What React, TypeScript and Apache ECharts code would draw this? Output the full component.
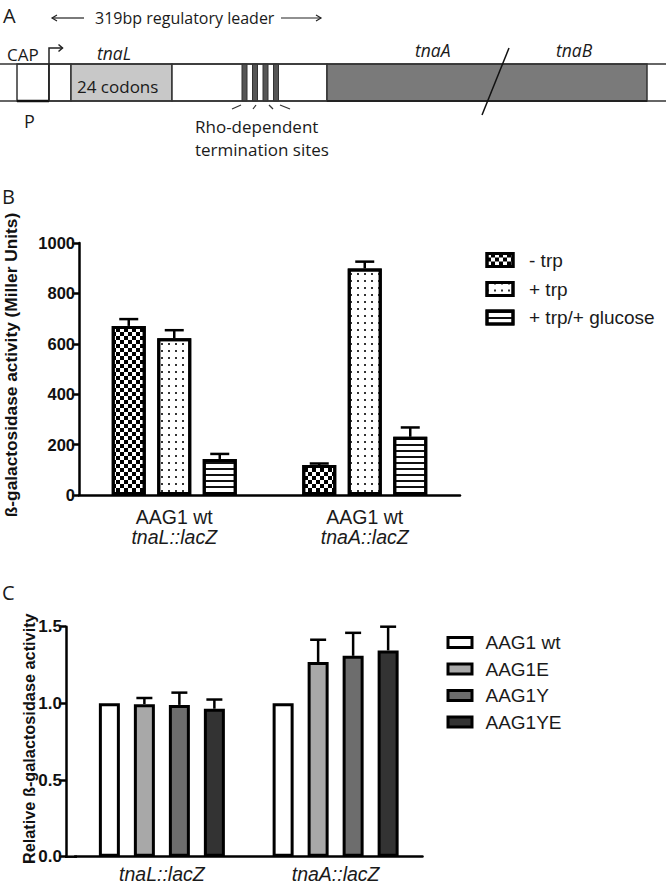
import React, { useEffect, useRef } from "react";
import * as echarts from "echarts";

// ---------- Panel B data ----------
const bConstructs = ["tnaL::lacZ", "tnaA::lacZ"];
const bStrain = ["AAG1 wt", "AAG1 wt"];
const bSeriesNames = ["- trp", "+ trp", "+ trp/+ glucose"];
const bMinusTrp = [671, 119];
const bPlusTrp = [622, 899];
const bPlusTrpGlucose = [143, 231];
const bMinusTrpErr = [27, 6];
const bPlusTrpErr = [32, 27];
const bPlusTrpGlucoseErr = [20, 37];
const bYTicks = [0, 200, 400, 600, 800, 1000];

// ---------- Panel C data ----------
const cConstructs = ["tnaL::lacZ", "tnaA::lacZ"];
const cSeriesNames = ["AAG1 wt", "AAG1E", "AAG1Y", "AAG1YE"];
const cWt = [1.0, 1.0];
const cE = [0.995, 1.27];
const cY = [0.99, 1.31];
const cYE = [0.965, 1.345];
const cWtErr = [0, 0];
const cEErr = [0.04, 0.145];
const cYErr = [0.08, 0.15];
const cYEErr = [0.06, 0.155];
const cYTicks = [0, 0.5, 1.0, 1.5];
const cColors = ["#ffffff", "#a8a8a8", "#6d6d6d", "#333333"];

const chartFont = "'Liberation Sans', Arial, sans-serif";
const diagFont = "'Open Sans', 'Noto Sans', sans-serif";

function errorBars(values: number[], errs: number[], idx: number, n: number, step: number, capW: number) {
  return {
    type: "custom",
    silent: true,
    z: 3,
    data: values.map((v, i) => [i, v, v + errs[i]]),
    renderItem: (params: any, api: any) => {
      const base = api.coord([api.value(0), api.value(1)]);
      const top = api.coord([api.value(0), api.value(2)]);
      if (Math.abs(base[1] - top[1]) < 0.5) return { type: "group", children: [] };
      const x = base[0] + (idx - (n - 1) / 2) * step;
      const st = { stroke: "#000", lineWidth: 2.5, fill: null };
      return {
        type: "group",
        children: [
          { type: "line", shape: { x1: x, y1: base[1], x2: x, y2: top[1] }, style: st },
          { type: "line", shape: { x1: x - capW / 2, y1: top[1], x2: x + capW / 2, y2: top[1] }, style: st },
        ],
      };
    },
  };
}

function txt(text: string, x: number, y: number, size: number, italic = false, align = "left") {
  return {
    type: "text",
    x,
    y,
    style: {
      text,
      fill: "#1a1a1a",
      fontSize: size,
      fontFamily: diagFont,
      fontStyle: italic ? "italic" : "normal",
      align,
      verticalAlign: "middle",
      textAlign: align,
      textVerticalAlign: "middle",
    },
  };
}

const edge = { stroke: "#333", lineWidth: 1.5 };

function panelAGraphics() {
  const els: any[] = [];
  els.push({ type: "rect", shape: { x: 17, y: 64, width: 32, height: 37 }, style: { fill: "#fff", ...edge } });
  els.push({ type: "rect", shape: { x: 49, y: 64, width: 22, height: 37 }, style: { fill: "#fff", ...edge } });
  els.push({ type: "rect", shape: { x: 71, y: 64, width: 101, height: 37 }, style: { fill: "#c8c8c8", ...edge } });
  els.push({ type: "rect", shape: { x: 172, y: 64, width: 155, height: 37 }, style: { fill: "#fff", ...edge } });
  [242, 252.5, 263, 273.5].forEach((sx) =>
    els.push({ type: "rect", shape: { x: sx, y: 64, width: 5, height: 37 }, style: { fill: "#555", stroke: "#333", lineWidth: 1 } })
  );
  els.push({ type: "rect", shape: { x: 327, y: 64, width: 320, height: 37 }, style: { fill: "#7a7a7a", ...edge } });
  els.push({ type: "line", shape: { x1: 0, y1: 64, x2: 666, y2: 64 }, style: edge });
  els.push({ type: "line", shape: { x1: 0, y1: 101, x2: 666, y2: 101 }, style: edge });
  els.push({ type: "line", shape: { x1: 17, y1: 101, x2: 49, y2: 101 }, style: { stroke: "#111", lineWidth: 2.5 } });
  els.push({ type: "line", shape: { x1: 327, y1: 101, x2: 647, y2: 101 }, style: { stroke: "#222", lineWidth: 2.2 } });
  els.push({ type: "polyline", shape: { points: [[49, 101], [49, 48], [62.5, 48]] }, style: { stroke: "#222", lineWidth: 1.5, fill: null } });
  els.push({ type: "polyline", shape: { points: [[58.5, 44.5], [62.5, 48], [58.5, 51.5]] }, style: { stroke: "#222", lineWidth: 1.5, fill: null } });
  els.push({ type: "line", shape: { x1: 509, y1: 48, x2: 482, y2: 115 }, style: { stroke: "#111", lineWidth: 1.5 } });
  [
    [232, 109, 241, 105],
    [253, 109, 256, 105],
    [269, 105, 273, 109],
    [280, 105, 290, 109],
  ].forEach((l) => els.push({ type: "line", shape: { x1: l[0], y1: l[1], x2: l[2], y2: l[3] }, style: { stroke: "#333", lineWidth: 1.2 } }));
  els.push({ type: "line", shape: { x1: 52, y1: 18, x2: 84, y2: 18 }, style: { stroke: "#222", lineWidth: 1.2 } });
  els.push({ type: "polyline", shape: { points: [[57, 15], [52, 18], [57, 21]] }, style: { stroke: "#222", lineWidth: 1.2, fill: null } });
  els.push({ type: "line", shape: { x1: 281, y1: 18, x2: 321, y2: 18 }, style: { stroke: "#222", lineWidth: 1.2 } });
  els.push({ type: "polyline", shape: { points: [[316, 15], [321, 18], [316, 21]] }, style: { stroke: "#222", lineWidth: 1.2, fill: null } });
  els.push(txt("A", 3, 15, 20));
  els.push(txt("319bp regulatory leader", 95, 18, 16));
  els.push(txt("CAP", 7, 54, 17));
  els.push(txt("tnaL", 97, 53, 17.5, true));
  els.push(txt("24 codons", 77, 86, 17));
  els.push(txt("P", 24, 121, 18));
  els.push(txt("Rho-dependent", 195, 126, 17));
  els.push(txt("termination sites", 195, 149, 17));
  els.push(txt("tnaA", 415, 50, 17.5, true));
  els.push(txt("tnaB", 556, 50, 17.5, true));
  els.push(txt("B", 2, 196, 20));
  return els;
}

const checkerDecal = {
  symbol: "rect", symbolSize: 1, symbolKeepAspect: false, color: "#000", backgroundColor: "#fff",
  dashArrayX: [[3.5, 3.5], [0, 3.5, 3.5, 0]], dashArrayY: [3.5, 0], rotation: 0,
};
const dotDecal = {
  symbol: "rect", symbolSize: 1, symbolKeepAspect: false, color: "#333", backgroundColor: "#fff",
  dashArrayX: [1.1, 4.5], dashArrayY: [1.1, 4.4], rotation: 0,
};
const lineDecal = {
  symbol: "rect", symbolSize: 1, symbolKeepAspect: false, color: "#111", backgroundColor: "#fff",
  dashArrayX: [20, 0], dashArrayY: [1.3, 3.6], rotation: 0,
};

function legendsFor(names: string[], left: number, centers: number[], w: number, h: number, textPad: number) {
  return names.map((nm, i) => ({
    data: [nm],
    orient: "vertical",
    left,
    top: centers[i] - 10,
    height: 20,
    padding: 0,
    itemWidth: w,
    itemHeight: h,
    icon: "rect",
    itemStyle: { borderWidth: 3, borderColor: "#000" },
    textStyle: { fontSize: 19, fontFamily: chartFont, color: "#1a1a1a", padding: [0, 0, 0, textPad], lineHeight: 20, height: 20 },
  }));
}

function topOption(): any {
  const bw = 34;
  const step = 45.5;
  const decals = [checkerDecal, dotDecal, lineDecal];
  const vals = [bMinusTrp, bPlusTrp, bPlusTrpGlucose];
  const errs = [bMinusTrpErr, bPlusTrpErr, bPlusTrpGlucoseErr];
  const series: any[] = vals.map((v, i) => ({
    type: "bar",
    name: bSeriesNames[i],
    data: v,
    barWidth: bw,
    barGap: ((step - bw) / bw) * 100 + "%",
    itemStyle: { color: "#fff", borderColor: "#000", borderWidth: 3, decal: decals[i] },
  }));
  vals.forEach((v, i) => series.push(errorBars(v, errs[i], i, 3, step, 19)));
  return {
    animation: false,
    aria: { enabled: true, decal: { show: true } },
    grid: { left: 79, top: 243, width: 381, height: 252, outerBoundsMode: "none", containLabel: false },
    xAxis: {
      type: "category",
      data: bConstructs,
      axisLine: { show: true, lineStyle: { color: "#000", width: 2.5 } },
      axisTick: { show: false },
      axisLabel: {
        interval: 0,
        margin: 12,
        formatter: (v: string, i: number) => `{a|${bStrain[i]}}\n{b|${v}}`,
        rich: {
          a: { fontSize: 19.5, fontFamily: chartFont, color: "#1a1a1a", lineHeight: 20 },
          b: { fontSize: 19.5, fontFamily: chartFont, color: "#1a1a1a", fontStyle: "italic", lineHeight: 20 },
        },
      },
      splitLine: { show: false },
    },
    yAxis: {
      type: "value",
      min: bYTicks[0],
      max: bYTicks[bYTicks.length - 1],
      interval: bYTicks[1] - bYTicks[0],
      axisLine: { show: true, lineStyle: { color: "#000", width: 2.5 } },
      axisTick: { show: true, length: 7, lineStyle: { color: "#000", width: 2.5 } },
      axisLabel: { fontSize: 16.5, fontWeight: "bold", fontFamily: chartFont, color: "#111", margin: 4, formatter: (v: number) => String(v) },
      splitLine: { show: false },
      name: "ß-galactosidase activity (Miller Units)",
      nameLocation: "middle",
      nameRotate: 90,
      nameGap: 60,
      nameMoveOverlap: false,
      nameTextStyle: { fontSize: 17.3, fontWeight: "bold", fontFamily: chartFont, color: "#111", padding: [0, 0, 0, 8] },
    },
    legend: legendsFor(bSeriesNames, 485.5, [260, 289, 317.5], 26, 13, 11),
    graphic: panelAGraphics(),
    series,
  };
}

function bottomOption(): any {
  const bw = 21;
  const step = 35;
  const vals = [cWt, cE, cY, cYE];
  const errs = [cWtErr, cEErr, cYErr, cYEErr];
  const series: any[] = vals.map((v, i) => ({
    type: "bar",
    name: cSeriesNames[i],
    data: v,
    barWidth: bw,
    barGap: ((step - bw) / bw) * 100 + "%",
    itemStyle: { color: cColors[i], borderColor: "#000", borderWidth: 3 },
  }));
  vals.forEach((v, i) => series.push(errorBars(v, errs[i], i, 4, step, 16)));
  return {
    animation: false,
    grid: { left: 75, top: 66.7, width: 347.5, height: 230, outerBoundsMode: "none", containLabel: false },
    xAxis: {
      type: "category",
      data: cConstructs,
      axisLine: { show: true, lineStyle: { color: "#000", width: 2.5 } },
      axisTick: { show: false },
      axisLabel: { interval: 0, margin: 7, fontSize: 19.5, fontStyle: "italic", fontFamily: chartFont, color: "#1a1a1a" },
      splitLine: { show: false },
    },
    yAxis: {
      type: "value",
      min: cYTicks[0],
      max: cYTicks[cYTicks.length - 1],
      interval: cYTicks[1] - cYTicks[0],
      offset: 9,
      axisLine: { show: true, lineStyle: { color: "#000", width: 2.5 } },
      axisTick: { show: true, length: 7, lineStyle: { color: "#000", width: 2.5 } },
      axisLabel: { fontSize: 17, fontWeight: "bold", fontFamily: chartFont, color: "#111", margin: 4, formatter: (v: number) => v.toFixed(1) },
      splitLine: { show: false },
      name: "Relative ß-galactosidase activity",
      nameLocation: "middle",
      nameRotate: 90,
      nameGap: 29.5,
      nameMoveOverlap: false,
      nameTextStyle: { fontSize: 16.3, fontWeight: "bold", fontFamily: chartFont, color: "#111", padding: [0, 0, 0, 6] },
    },
    legend: legendsFor(cSeriesNames, 446.5, [82.5, 109, 135.5, 162], 24, 10, 8.5),
    graphic: [
      { type: "line", shape: { x1: 65, y1: 296.7, x2: 77, y2: 296.7 }, style: { stroke: "#000", lineWidth: 2.5 } },
      { type: "text", x: 2, y: 32, style: { text: "C", fontSize: 20, fontFamily: diagFont, fill: "#1a1a1a", verticalAlign: "middle", textVerticalAlign: "middle" } },
    ],
    series,
  };
}

export default function App() {
  const topRef = useRef<HTMLDivElement>(null);
  const botRef = useRef<HTMLDivElement>(null);
  useEffect(() => {
    document.body.style.margin = "0";
    const c1 = echarts.init(topRef.current!, undefined, { renderer: "svg" });
    c1.setOption(topOption());
    const c2 = echarts.init(botRef.current!, undefined, { renderer: "svg" });
    c2.setOption(bottomOption());
    return () => {
      c1.dispose();
      c2.dispose();
    };
  }, []);
  return (
    <div style={{ position: "fixed", left: 0, top: 0, width: 666, height: 889, background: "#fff" }}>
      <div ref={topRef} style={{ position: "absolute", left: 0, top: 0, width: 666, height: 560 }} />
      <div ref={botRef} style={{ position: "absolute", left: 0, top: 560, width: 666, height: 329 }} />
    </div>
  );
}
